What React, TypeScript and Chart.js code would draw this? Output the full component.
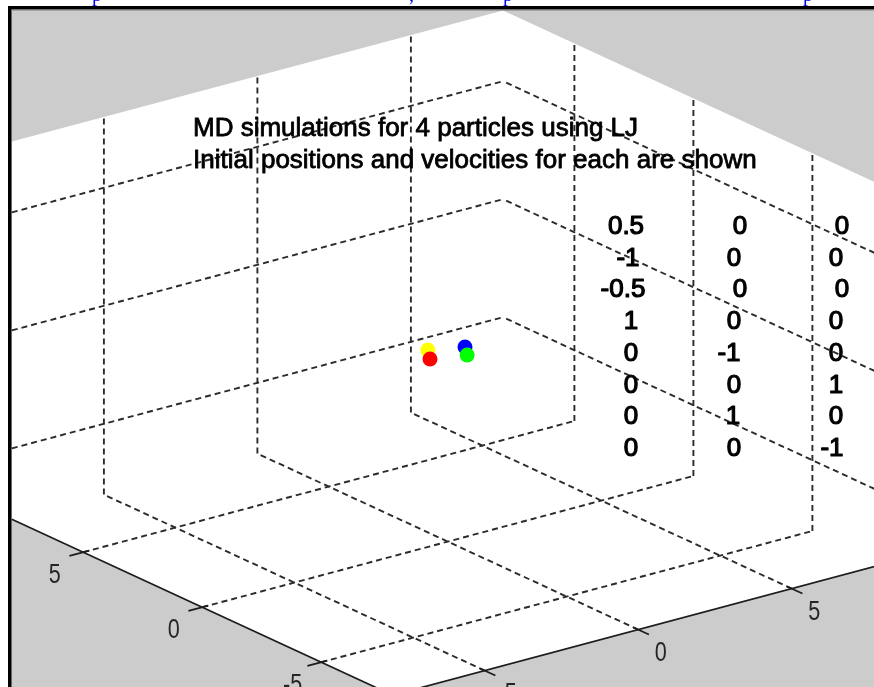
import React, { useEffect, useRef } from 'react';
import { Chart, registerables } from 'chart.js';

Chart.register(...registerables);

const W = 874;
const H = 687;

// ---------- data ----------
const AXIS_MIN = -8;
const AXIS_MAX = 8;
const GRID_VALUES = [-5, 0, 5];
const X_TICK_VALUES = [-5, 0, 5];
const X_TICK_LABELS = ['-5', '0', '5'];
const Y_TICK_VALUES = [-5, 0, 5];
const Y_TICK_LABELS = ['-5', '0', '5'];

// particles (drawn in this order)
const PARTICLE_COLORS = ['#ffff00', '#ff0000', '#0000ff', '#00ff00'];
const PARTICLE_X = [-0.65, -0.58, 0.56, 0.63];
const PARTICLE_Y = [0, 0, 0, 0];
const PARTICLE_Z = [0.34, -0.06, 0.05, -0.31];

const TITLE_LINES = [
  'MD simulations for 4 particles using LJ',
  'Initial positions and velocities for each are shown',
];
const TABLE_COL1 = ['0.5', '-1', '-0.5', '1', '0', '0', '0', '0'];
const TABLE_COL2 = ['0', '0', '0', '0', '-1', '0', '1', '0'];
const TABLE_COL3 = ['0', '0', '0', '0', '0', '1', '0', '-1'];

const LINK_FRAGMENTS = ['p', ',', 'p', 'p'];

// ---------- layout / style ----------
const VIEW = { cx: 447.8, cy: 352.8, xDir: [30.7, -8.2], yDir: [-23.8, -11.0], zPix: 23.6 };
const TITLE_POS = { x: 193, y0: 136, step: 32 };
const TABLE_X = [
  [626, 740, 842],
  [628, 734, 836],
  [623, 740, 842],
  [631, 734, 836],
  [631, 729, 836],
  [631, 734, 836],
  [631, 733, 836],
  [631, 734, 832],
];
const TABLE_POS = { y0: 234, step: 31.7 };
const LINK_X = [92, 409, 503, 803];

function project(x: number, y: number, z: number) {
  return {
    x: VIEW.cx + x * VIEW.xDir[0] + y * VIEW.yDir[0],
    y: VIEW.cy + x * VIEW.xDir[1] + y * VIEW.yDir[1] - z * VIEW.zPix,
  };
}

function buildDatasets() {
  const sets: any[] = [];
  // particles (index 0 => drawn on top)
  sets.push({
    label: 'particles',
    data: PARTICLE_X.map((x, i) => project(x, PARTICLE_Y[i], PARTICLE_Z[i])),
    pointRadius: 7.5,
    pointBackgroundColor: PARTICLE_COLORS,
    pointBorderColor: PARTICLE_COLORS,
    pointBorderWidth: 0,
    showLine: false,
    clip: false,
  });

  const line = (a: number[], b: number[], dashed: boolean) => ({
    data: [project(a[0], a[1], a[2]), project(b[0], b[1], b[2])],
    showLine: true,
    pointRadius: 0,
    borderColor: dashed ? '#2b2b2b' : '#1c1c1c',
    borderWidth: dashed ? 1.9 : 1.7,
    borderDash: dashed ? [6, 4] : [],
    tension: 0,
    fill: false,
  });

  // axis lines and ticks (solid)
  sets.push(line([AXIS_MIN, AXIS_MIN, AXIS_MIN], [AXIS_MAX, AXIS_MIN, AXIS_MIN], false));
  sets.push(line([AXIS_MIN, AXIS_MIN, AXIS_MIN], [AXIS_MIN, AXIS_MAX, AXIS_MIN], false));
  for (const v of X_TICK_VALUES) {
    sets.push(line([v, AXIS_MIN + 0.2, AXIS_MIN], [v, AXIS_MIN - 0.45, AXIS_MIN], false));
  }
  for (const v of Y_TICK_VALUES) {
    sets.push(line([AXIS_MIN + 0.2, v, AXIS_MIN], [AXIS_MIN - 0.45, v, AXIS_MIN], false));
  }

  // grid lines (dashed)
  for (const v of GRID_VALUES) {
    // back-left wall (y = max)
    sets.push(line([v, AXIS_MAX, AXIS_MIN], [v, AXIS_MAX, AXIS_MAX], true));
    sets.push(line([AXIS_MIN, AXIS_MAX, v], [AXIS_MAX, AXIS_MAX, v], true));
    // back-right wall (x = max)
    sets.push(line([AXIS_MAX, v, AXIS_MIN], [AXIS_MAX, v, AXIS_MAX], true));
    sets.push(line([AXIS_MAX, AXIS_MIN, v], [AXIS_MAX, AXIS_MAX, v], true));
    // floor (z = min)
    sets.push(line([v, AXIS_MIN, AXIS_MIN], [v, AXIS_MAX, AXIS_MIN], true));
    sets.push(line([AXIS_MIN, v, AXIS_MIN], [AXIS_MAX, v, AXIS_MIN], true));
  }
  return sets;
}

const scene = {
  id: 'scene',
  beforeDraw(chart: any) {
    const { ctx } = chart;
    const sx = chart.scales.x;
    const sy = chart.scales.y;
    const px = (p: { x: number; y: number }) => [sx.getPixelForValue(p.x), sy.getPixelForValue(p.y)];
    ctx.save();
    ctx.fillStyle = '#ffffff';
    ctx.fillRect(0, 0, W, H);
    ctx.fillStyle = '#cccccc';
    ctx.fillRect(8, 6, W - 8, H - 6);
    const corners = [
      [AXIS_MIN, AXIS_MAX, AXIS_MAX],
      [AXIS_MAX, AXIS_MAX, AXIS_MAX],
      [AXIS_MAX, AXIS_MIN, AXIS_MAX],
      [AXIS_MAX, AXIS_MIN, AXIS_MIN],
      [AXIS_MIN, AXIS_MIN, AXIS_MIN],
      [AXIS_MIN, AXIS_MAX, AXIS_MIN],
    ].map((c) => px(project(c[0], c[1], c[2])));
    ctx.beginPath();
    corners.forEach((c, i) => (i ? ctx.lineTo(c[0], c[1]) : ctx.moveTo(c[0], c[1])));
    ctx.closePath();
    ctx.fillStyle = '#ffffff';
    ctx.fill();
    ctx.restore();
  },
  afterDraw(chart: any) {
    const { ctx } = chart;
    const sx = chart.scales.x;
    const sy = chart.scales.y;
    const X = (v: number) => sx.getPixelForValue(v);
    const Y = (v: number) => sy.getPixelForValue(v);
    ctx.save();

    const boldText = (t: string, x: number, y: number) => {
      ctx.fillText(t, x, y);
      ctx.strokeText(t, x, y);
    };

    // title text
    ctx.fillStyle = '#000000';
    ctx.strokeStyle = '#000000';
    ctx.lineWidth = 0.8;
    ctx.lineJoin = 'round';
    ctx.font = '26px "Liberation Sans", Arial, sans-serif';
    ctx.textAlign = 'left';
    ctx.textBaseline = 'alphabetic';
    TITLE_LINES.forEach((t, i) => boldText(t, X(TITLE_POS.x), Y(TITLE_POS.y0 + i * TITLE_POS.step)));

    // table of initial positions / velocities
    ctx.textAlign = 'center';
    ctx.lineWidth = 1.2;
    const cols = [TABLE_COL1, TABLE_COL2, TABLE_COL3];
    for (let r = 0; r < TABLE_COL1.length; r++) {
      for (let c = 0; c < 3; c++) {
        boldText(cols[c][r], X(TABLE_X[r][c]), Y(TABLE_POS.y0 + r * TABLE_POS.step));
      }
    }

    // tick labels (narrow font)
    ctx.fillStyle = '#262626';
    ctx.font = '27px "Liberation Sans", Arial, sans-serif';
    ctx.textBaseline = 'middle';
    const drawNarrow = (t: string, x: number, y: number) => {
      ctx.save();
      ctx.translate(x, y);
      ctx.scale(0.8, 1);
      ctx.fillText(t, 0, 0);
      ctx.restore();
    };
    X_TICK_VALUES.forEach((v, i) => {
      const p = project(v, AXIS_MIN, AXIS_MIN);
      drawNarrow(X_TICK_LABELS[i], X(p.x) + 22.5, Y(p.y) + 23.7);
    });
    Y_TICK_VALUES.forEach((v, i) => {
      const p = project(AXIS_MIN, v, AXIS_MIN);
      drawNarrow(Y_TICK_LABELS[i], X(p.x) - 28.5, Y(p.y) + 23.5);
    });

    // window frame of the screenshot
    ctx.fillStyle = '#ffffff';
    ctx.fillRect(0, 0, W, 6);
    ctx.fillRect(0, 0, 8, H);
    ctx.fillStyle = '#000000';
    ctx.fillRect(8, 6, W - 8, 3.5);
    ctx.fillRect(8, 6, 3.5, H - 6);
    ctx.fillStyle = '#7a7a7a';
    ctx.fillRect(11.5, 9.5, W - 11.5, 1);

    // clipped hyperlink text above the frame
    ctx.fillStyle = '#0000ee';
    ctx.font = '20px "Liberation Serif", "Times New Roman", serif';
    ctx.textAlign = 'left';
    ctx.textBaseline = 'alphabetic';
    LINK_FRAGMENTS.forEach((t, i) => ctx.fillText(t, LINK_X[i], 1));
    ctx.restore();
  },
};

export default function App() {
  const ref = useRef<HTMLCanvasElement | null>(null);
  useEffect(() => {
    document.body.style.margin = '0';
    const canvas = ref.current;
    if (!canvas) return;
    const chart = new Chart(canvas, {
      type: 'scatter',
      data: { datasets: buildDatasets() },
      options: {
        animation: false,
        responsive: false,
        devicePixelRatio: 1,
        events: [],
        layout: { padding: 0, autoPadding: false },
        plugins: { legend: { display: false }, tooltip: { enabled: false }, title: { display: false } },
        scales: {
          x: { type: 'linear', min: 0, max: W, display: false },
          y: { type: 'linear', min: 0, max: H, reverse: true, display: false },
        },
      },
      plugins: [scene],
    });
    return () => chart.destroy();
  }, []);
  return (
    <canvas ref={ref} width={W} height={H} style={{ display: 'block', width: W, height: H }} />
  );
}
